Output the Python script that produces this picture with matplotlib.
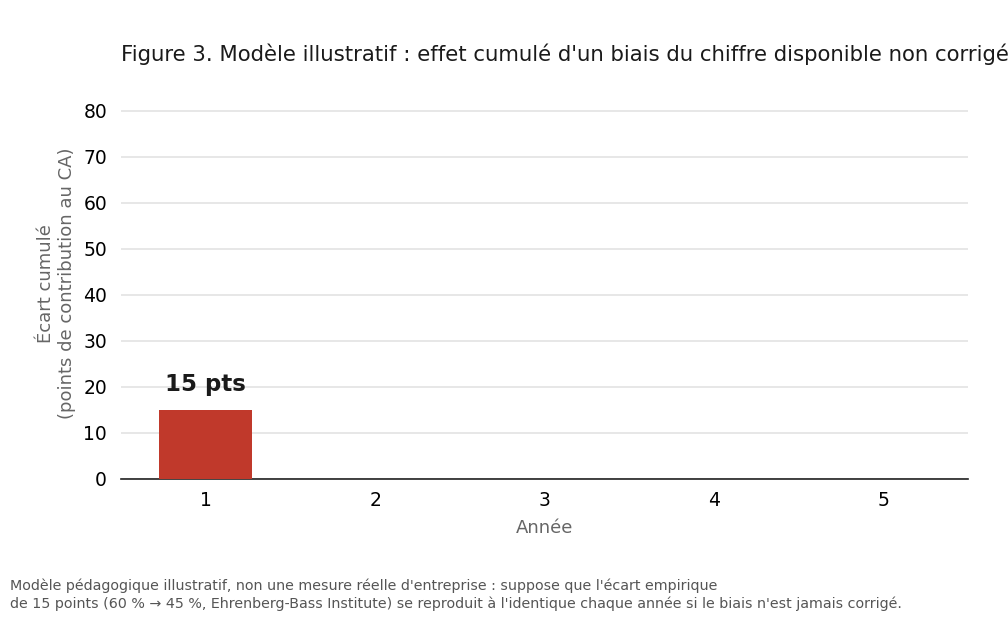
import matplotlib.pyplot as plt

# Données (image de l'année 1 : seules les valeurs affichées)
annees = [1, 2, 3, 4, 5]
ecart_cumule = [15, 0, 0, 0, 0]
etiquettes = ['15 pts', '', '', '', '']

titre = "Figure 3. Modèle illustratif : effet cumulé d'un biais du chiffre disponible non corrigé"
note = ("Modèle pédagogique illustratif, non une mesure réelle d'entreprise : suppose que l'écart empirique\n"
        "de 15 points (60 % → 45 %, Ehrenberg-Bass Institute) se reproduit à l'identique chaque année si le biais n'est jamais corrigé.")

plt.rcParams['font.family'] = ['DejaVu Sans']

fig = plt.figure(figsize=(10.08, 6.3), dpi=100)
ax = fig.add_axes([121 / 1008, 1 - 479 / 630, 847 / 1008, 391 / 630])

ax.bar(annees, ecart_cumule, width=0.55, color='#c0392b', zorder=3)
for x, y, t in zip(annees, ecart_cumule, etiquettes):
    if t:
        ax.text(x, y + 3, t, ha='center', va='bottom', fontsize=16.5,
                fontweight='bold', color='#1a1a1a')

ax.set_xlim(0.5, 5.5)
ax.set_ylim(0, 85)
ax.set_yticks(range(0, 81, 10))
ax.set_xticks(annees)
ax.grid(axis='y', color='#e3e3e3', linewidth=1.2, zorder=0)
ax.set_axisbelow(True)
for s in ['top', 'right', 'left']:
    ax.spines[s].set_visible(False)
ax.spines['bottom'].set_color('#222222')
ax.spines['bottom'].set_linewidth(1.2)
ax.tick_params(length=0, labelsize=13.5)
ax.tick_params(axis='x', pad=9)
ax.tick_params(axis='y', pad=10)

ax.set_xlabel('Année', fontsize=13, color='#666666', labelpad=6)
ax.set_ylabel('Écart cumulé\n(points de contribution au CA)', fontsize=13,
              color='#666666', labelpad=5)

fig.text(121 / 1008, 1 - 54 / 630, titre, fontsize=15.3, color='#1a1a1a',
         ha='left', va='center')
fig.text(10 / 1008, 1 - 595 / 630, note, fontsize=10.3, color='#555555',
         ha='left', va='center', linespacing=1.3)

fig.savefig('out.png', dpi=100)
